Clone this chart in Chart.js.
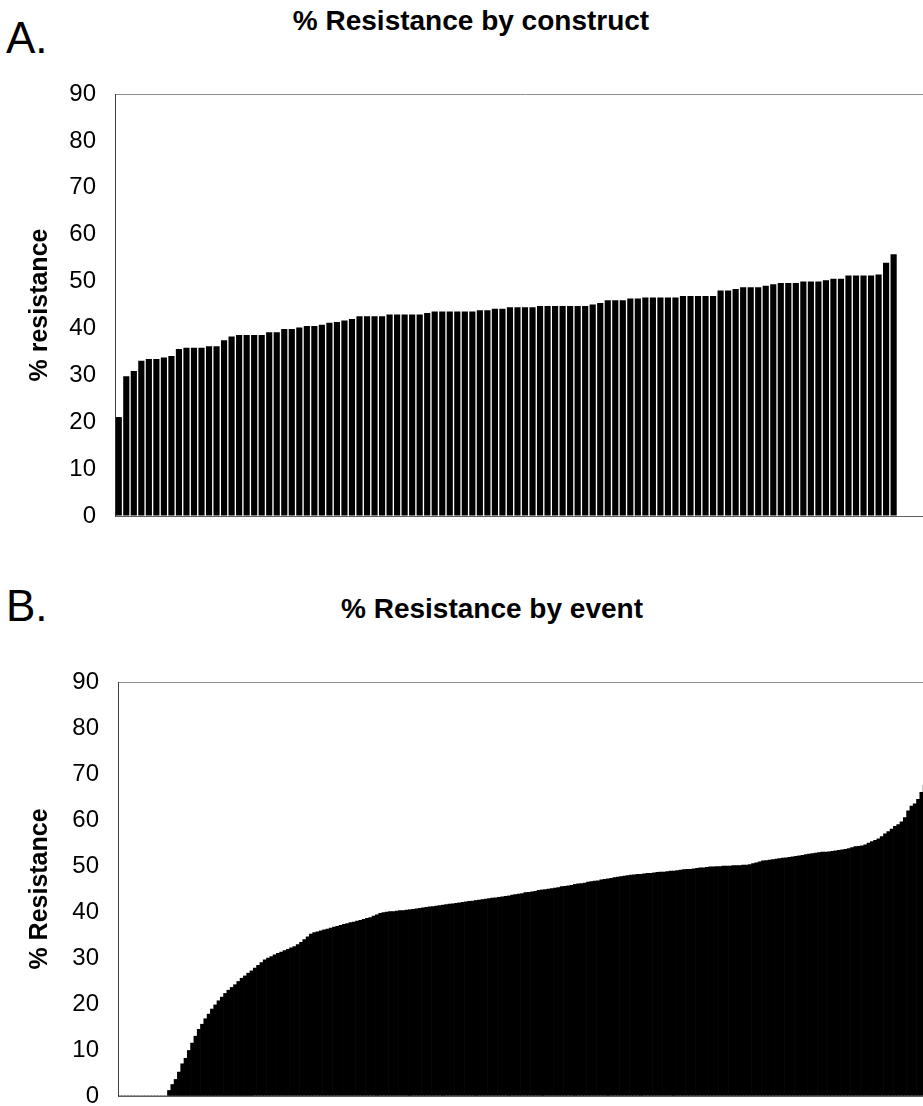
<!DOCTYPE html>
<html>
<head>
<meta charset="utf-8">
<script src="https://cdn.jsdelivr.net/npm/chart.js@4.4.1/dist/chart.umd.min.js"></script>
<style>
  html, body { margin: 0; padding: 0; background: #fff; overflow: hidden; }
  body { width: 923px; height: 1106px; position: relative; font-family: "Liberation Sans", Arial, sans-serif; }
  .panel { position: absolute; left: 0; width: 940px; }
  .letter { position: absolute; left: 6px; font-size: 44px; color: #000; line-height: 1; }
  .title { position: absolute; white-space: nowrap; transform: translateX(-50%); font-size: 28px; font-weight: bold; color: #000; line-height: 1; }
</style>
</head>
<body>
<div class="letter" style="top: 16px;">A.</div>
<div class="title" style="left: 471px; top: 7px;">% Resistance by construct</div>
<div class="panel" style="top: 0; height: 540px;"><canvas id="chartA"></canvas></div>

<div class="letter" style="top: 584px;">B.</div>
<div class="title" style="left: 492px; top: 595px;">% Resistance by event</div>
<div class="panel" style="top: 560px; height: 546px;"><canvas id="chartB"></canvas></div>

<script>
// Panel A: % resistance for each construct, sorted low to high
var constructValues = [
    21.1, 29.8, 30.9, 33.1, 33.5, 33.5, 33.8, 34.1, 35.6, 35.9,
    35.9, 35.9, 36.2, 36.2, 37.5, 38.3, 38.6, 38.6, 38.6, 38.6,
    39.2, 39.2, 39.9, 39.9, 40.2, 40.5, 40.5, 40.8, 41.2, 41.4,
    41.7, 42.0, 42.6, 42.6, 42.6, 42.6, 43.0, 43.0, 43.0, 43.0,
    43.0, 43.3, 43.6, 43.6, 43.6, 43.6, 43.6, 43.6, 43.9, 43.9,
    44.2, 44.2, 44.5, 44.5, 44.5, 44.5, 44.8, 44.8, 44.8, 44.8,
    44.8, 44.8, 44.8, 45.1, 45.4, 46.0, 46.0, 46.0, 46.4, 46.4,
    46.6, 46.6, 46.6, 46.6, 46.6, 46.9, 46.9, 46.9, 46.9, 46.9,
    48.1, 48.1, 48.4, 48.8, 48.8, 48.8, 49.1, 49.4, 49.7, 49.7,
    49.7, 50.0, 50.0, 50.0, 50.3, 50.6, 50.6, 51.3, 51.3, 51.3,
    51.3, 51.5, 54.0, 55.8
];
// the plot runs past the right edge of the picture, empty slots after the last construct
var constructPad = 5;

// Panel B: % resistance for each event, sorted low to high
var eventValues = [
    0, 0, 0, 0, 0, 0, 0, 0, 0, 0, 0, 0, 0, 0, 0,
    1.2, 2.5, 3.6, 5.2, 7.0, 8.2, 9.9, 11.5, 13.0, 14.5,
    15.6, 16.8, 17.8, 18.9, 19.8, 20.7, 21.5, 22.3, 23.0, 23.6,
    24.2, 24.9, 25.6, 26.1, 26.7, 27.2, 27.8, 28.4, 29.0, 29.6,
    30.0, 30.3, 30.7, 31.0, 31.3, 31.6, 31.9, 32.2, 32.5, 32.9,
    33.4, 34.0, 34.6, 35.2, 35.5, 35.7, 35.9, 36.1, 36.3, 36.5,
    36.7, 36.9, 37.1, 37.3, 37.5, 37.7, 37.8, 38.0, 38.2, 38.4,
    38.6, 38.8, 39.1, 39.4, 39.7, 39.9, 40.0, 40.1, 40.1, 40.2,
    40.3, 40.3, 40.4, 40.5, 40.6, 40.7, 40.8, 40.9, 41.0, 41.1,
    41.2, 41.3, 41.4, 41.5, 41.6, 41.7, 41.8, 41.9, 42.0, 42.1,
    42.2, 42.3, 42.4, 42.5, 42.6, 42.7, 42.8, 42.9, 43.0, 43.1,
    43.2, 43.3, 43.4, 43.5, 43.7, 43.8, 43.9, 44.0, 44.2, 44.3,
    44.4, 44.5, 44.7, 44.8, 44.9, 45.0, 45.1, 45.2, 45.3, 45.5,
    45.6, 45.7, 45.8, 46.0, 46.1, 46.2, 46.3, 46.5, 46.6, 46.7,
    46.8, 47.0, 47.1, 47.2, 47.3, 47.5, 47.6, 47.7, 47.8, 47.9,
    48.0, 48.1, 48.2, 48.2, 48.3, 48.4, 48.4, 48.5, 48.6, 48.7,
    48.7, 48.8, 48.9, 48.9, 49.0, 49.1, 49.2, 49.3, 49.3, 49.4,
    49.5, 49.6, 49.6, 49.7, 49.8, 49.8, 49.9, 49.9, 50.0, 50.0,
    50.0, 50.1, 50.1, 50.1, 50.2, 50.2, 50.3, 50.5, 50.7, 50.9,
    51.1, 51.2, 51.3, 51.4, 51.5, 51.6, 51.7, 51.8, 51.9, 52.0,
    52.1, 52.2, 52.3, 52.5, 52.6, 52.7, 52.8, 52.9, 53.0, 53.0,
    53.1, 53.2, 53.3, 53.4, 53.5, 53.6, 53.8, 54.0, 54.2, 54.3,
    54.4, 54.6, 55.0, 55.3, 55.6, 55.9, 56.4, 57.0, 57.5, 58.0,
    58.6, 59.0, 59.6, 60.5, 62.0, 63.0, 63.5, 64.5, 66.0, 67.5,
    69.0, 70.5
];

var yMin = 0;
var yMax = 90;
var yStep = 10;

Chart.defaults.font.family = '"Liberation Sans", Arial, sans-serif';
Chart.defaults.color = '#000';
Chart.defaults.animation = false;

function makeLabels(n) {
    var out = [];
    for (var i = 0; i < n; i++) {
        out.push(String(i + 1));
    }
    return out;
}

function buildOptions(axisTitle, yWidth, pad) {
    return {
        responsive: true,
        maintainAspectRatio: false,
        layout: { padding: pad },
        plugins: {
            legend: { display: false },
            tooltip: { enabled: false }
        },
        scales: {
            x: {
                ticks: { display: false },
                grid: { display: false, drawTicks: false },
                border: { display: true, color: '#606060', width: 1 },
                afterFit: function(scale) { scale.height = 0; }
            },
            y: {
                min: yMin,
                max: yMax,
                ticks: { stepSize: yStep, font: { size: 24 }, padding: 19, color: '#000' },
                grid: {
                    drawTicks: false,
                    // only the top edge of the plot box is drawn
                    color: function(ctx) { return ctx.tick && ctx.tick.value === yMax ? '#909090' : 'rgba(0,0,0,0)'; }
                },
                border: { display: true, color: '#404040', width: 1 },
                title: {
                    display: true,
                    text: axisTitle,
                    font: { size: 25, weight: 'bold' },
                    padding: { top: 25, bottom: 0 }
                },
                afterFit: function(scale) {
                    scale.width = yWidth;
                    // the layout padding alone sets the plot box
                    scale.paddingTop = 0;
                    scale.paddingBottom = 0;
                }
            }
        }
    };
}

var dataA = constructValues.slice();
for (var k = 0; k < constructPad; k++) {
    dataA.push(null);
}

var chartA = new Chart(document.getElementById('chartA'), {
    type: 'bar',
    data: {
        labels: makeLabels(dataA.length),
        datasets: [{
            data: dataA,
            backgroundColor: '#000',
            borderWidth: 0,
            barPercentage: 0.82,
            categoryPercentage: 1
        }]
    },
    options: buildOptions('% resistance', 115, { top: 94, bottom: 24, left: 0, right: 5 })
});

var chartB = new Chart(document.getElementById('chartB'), {
    type: 'bar',
    data: {
        labels: makeLabels(eventValues.length),
        datasets: [{
            data: eventValues,
            backgroundColor: '#000',
            borderWidth: 0,
            barPercentage: 1,
            categoryPercentage: 1
        }]
    },
    options: buildOptions('% Resistance', 118, { top: 122, bottom: 10, left: 0, right: 7 })
});
</script>
</body>
</html>
